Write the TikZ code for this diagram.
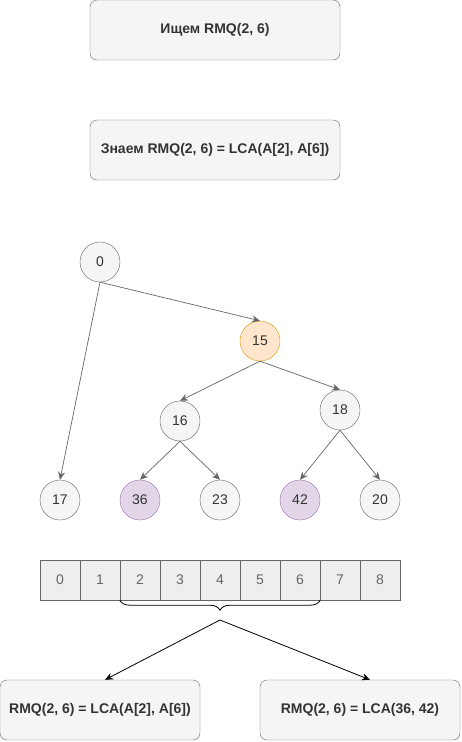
\documentclass[tikz,border=0pt]{standalone}
\usepackage{fontspec}
\setmainfont{Liberation Sans}
\usepackage{xcolor}
\usepackage{tikz}
\usetikzlibrary{arrows.meta,positioning,decorations.pathreplacing}

\definecolor{boxfill}{HTML}{F5F5F5}
\definecolor{boxline}{HTML}{666666}
\definecolor{boxtext}{HTML}{333333}
\definecolor{cellfill}{HTML}{EEEEEE}
\definecolor{lcafill}{HTML}{FFE6CC}
\definecolor{lcaline}{HTML}{D79B00}
\definecolor{qfill}{HTML}{E1D5E7}
\definecolor{qline}{HTML}{9673A6}

\begin{document}
\begin{tikzpicture}[
      x=1pt, y=-1pt,
      textbox/.style={draw=boxline, rounded corners=7pt, fill=boxfill, align=center,
          minimum width=250pt, minimum height=60pt, inner sep=2pt,
          text=boxtext, font=\fontsize{14}{16}\selectfont\bfseries},
      vert/.style={circle, draw=boxline, fill=boxfill, minimum size=40pt, inner sep=0pt,
          text=boxtext, font=\fontsize{14}{16}\selectfont},
      lca/.style={vert, draw=lcaline, fill=lcafill},
      query/.style={vert, draw=qline, fill=qfill},
      cell/.style={draw=boxline, fill=cellfill, minimum size=40pt, inner sep=0pt,
          text=boxline, font=\fontsize{14}{16}\selectfont},
      edge/.style={-{Stealth[length=8pt,width=7pt]}, line width=0.7pt, draw=boxline},
      link/.style={-{Stealth[length=8pt,width=7pt]}, line width=0.8pt, draw=black}
    ]
    \useasboundingbox (0,0) rectangle (462,742);

    % headings
    \node[textbox] (find) at (215,30) {Ищем RMQ(2, 6)};
    \node[textbox] (know) at (215,150) {Знаем RMQ(2, 6) = LCA(A[2], A[6])};

    % cartesian tree
    \node[vert] (v0) at (100,262) {0};
    \node[lca] (v15) at (260,341) {15};
    \node[vert] (v16) at (180,421) {16};
    \node[vert] (v18) at (340,410) {18};
    \node[vert] (v17) at (60,500) {17};
    \node[query] (v36) at (140,500) {36};
    \node[vert] (v23) at (220,500) {23};
    \node[query] (v42) at (300,500) {42};
    \node[vert] (v20) at (380,500) {20};
    \draw[edge] (v0.south) -- (v17.north);
    \draw[edge] (v0.south) -- (v15.north);
    \draw[edge] (v15.south) -- (v16.north);
    \draw[edge] (v15.south) -- (v18.north);
    \draw[edge] (v16.south) -- (v36.north);
    \draw[edge] (v16.south) -- (v23.north);
    \draw[edge] (v18.south) -- (v42.north);
    \draw[edge] (v18.south) -- (v20.north);

    % array
    \foreach \i in {0,...,8}
      \node[cell] (c\i) at (60+40*\i,580) {\i};

    \draw[line width=0.8pt, decorate, decoration={brace, mirror, amplitude=10pt}]
      (c2.south west) -- (c6.south east);
    \coordinate (tip) at (220,620);

    % results
    \node[textbox, minimum width=200pt] (lres) at (100,710) {RMQ(2, 6) = LCA(A[2], A[6])};
    \node[textbox, minimum width=200pt] (rres) at (360,710) {RMQ(2, 6) = LCA(36, 42)};
    \draw[link] (tip) -- ([xshift=5pt]lres.north);
    \draw[link] (tip) -- ([xshift=10pt]rres.north);
  \end{tikzpicture}
\end{document}
